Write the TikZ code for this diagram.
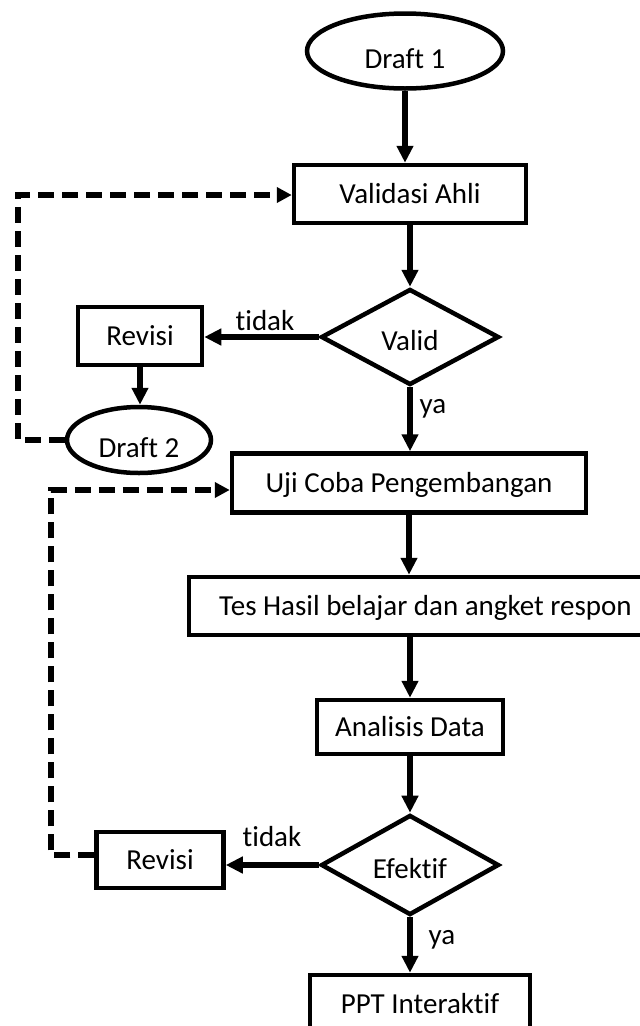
\documentclass[tikz,border=0pt]{standalone}
\usepackage{fontspec}
\setmainfont{Carlito}[Ligatures={NoCommon,NoRequired,NoContextual}]
\usetikzlibrary{shapes.geometric,arrows.meta}
\begin{document}
\begin{tikzpicture}[x=1pt,y=-1pt,
  every node/.style={font=\fontsize{29}{34}\selectfont, inner sep=0pt},
  boxnode/.style={draw, line width=4.5pt, rectangle, text height=20pt, text depth=1.3pt},
  ellnode/.style={draw, line width=4.5pt, ellipse, text height=34pt, text depth=0pt},
  decnode/.style={draw, line width=4.5pt, diamond, text height=26pt, text depth=0pt},
  flow/.style={line width=5.5pt, -{Triangle[length=17pt,width=16pt]}},
  dashflow/.style={line width=5.5pt, dash pattern=on 16pt off 8pt, -{Triangle[length=15pt,width=15pt]}}
]
\useasboundingbox (0,0) rectangle (640,1026);
\clip (0,0) rectangle (640,1026);
\fill[white] (0,0) rectangle (640,1026);

\node[ellnode, minimum width=196pt, minimum height=75pt] (d1) at (405,51) {Draft 1};
\node[boxnode, minimum width=232pt, minimum height=58pt] (va) at (410,194) {Validasi Ahli};
\node[decnode, minimum width=178pt, minimum height=96pt] (valid) at (410,337) {Valid};
\node[boxnode, minimum width=124pt, minimum height=58pt] (rev1) at (140,336) {Revisi};
\node[ellnode, minimum width=144pt, minimum height=66pt] (d2) at (139,440) {Draft 2};
\node[boxnode, minimum width=354pt, minimum height=59pt] (uji) at (409,483) {Uji Coba Pengembangan};
\node[boxnode, minimum width=473pt, minimum height=58pt] (tes) at (425.5,606) {Tes Hasil belajar dan angket respon};
\node[boxnode, minimum width=186pt, minimum height=54pt] (ana) at (410,727) {Analisis Data};
\node[decnode, minimum width=178pt, minimum height=99pt] (efek) at (410,865) {Efektif};
\node[boxnode, minimum width=127pt, minimum height=56pt] (rev2) at (160,860) {Revisi};
\node[boxnode, minimum width=220pt, minimum height=58pt] (ppt) at (420,1004) {PPT Interaktif};

\node (t1) at (265,321) {tidak};
\node (y1) at (433,409) {ya};
\node (t2) at (272,837) {tidak};
\node (y2) at (442,940) {ya};

\coordinate (k1) at (18,195);
\coordinate (k2) at (51,490);

\draw[flow] (d1.south) -- (d1.south |- va.north);
\draw[flow] (va.south) -- (valid.north);
\draw[flow] (valid.west) -- (valid.west -| rev1.east);
\draw[flow] (rev1.south) -- (rev1.south |- d2.north);
\draw[dashflow] (d2.west) -| (k1) -- (k1 -| va.west);
\draw[flow] (valid.south) -- (valid.south |- uji.north);
\draw[flow] (uji.south) -- (uji.south |- tes.north);
\draw[flow] (ana.north |- tes.south) -- (ana.north);
\draw[flow] (ana.south) -- (efek.north);
\draw[flow] (efek.west) -- (efek.west -| rev2.east);
\draw[flow] (efek.south) -- (efek.south |- ppt.north);
\draw[dashflow] ([yshift=5pt]rev2.west) -| (k2) -- (k2 -| uji.west);
\end{tikzpicture}
\end{document}
